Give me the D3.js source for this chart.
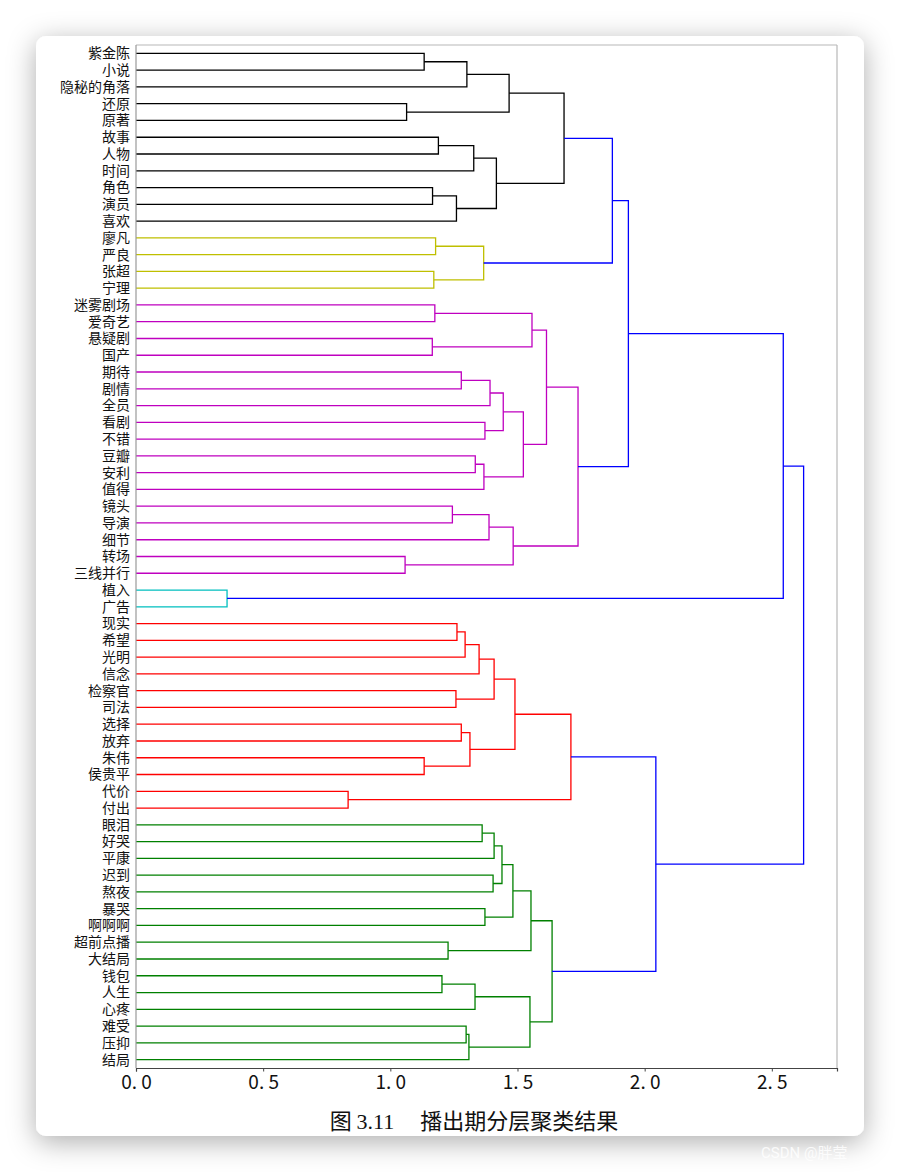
<!DOCTYPE html>
<html>
<head>
<meta charset="utf-8">
<script src="https://cdn.jsdelivr.net/npm/d3@7"></script>
<style>
  html, body { margin: 0; padding: 0; background: #ffffff; }
  svg { display: block; }
</style>
</head>
<body>
<svg id="chart" width="900" height="1172"></svg>
<script>
// ---------- DATA ----------
const labels = [
  "紫金陈","小说","隐秘的角落","还原","原著","故事","人物","时间","角色","演员","喜欢",
  "廖凡","严良","张超","宁理",
  "迷雾剧场","爱奇艺","悬疑剧","国产","期待","剧情","全员","看剧","不错","豆瓣","安利","值得",
  "镜头","导演","细节","转场","三线并行",
  "植入","广告",
  "现实","希望","光明","信念","检察官","司法","选择","放弃","朱伟","侯贵平","代价","付出",
  "眼泪","好哭","平康","迟到","熬夜","暴哭","啊啊啊","超前点播","大结局","钱包","人生","心疼","难受","压抑","结局"
];

// merges: [id, childA, childB, height, colorKey]; children are leaf indices or merge ids
const merges = [
  ["m1", 0, 1, 1.133, "k"],
  ["m2", "m1", 2, 1.301, "k"],
  ["m3", 3, 4, 1.064, "k"],
  ["m4", "m2", "m3", 1.467, "k"],
  ["m5", 5, 6, 1.189, "k"],
  ["m6", "m5", 7, 1.328, "k"],
  ["m7", 8, 9, 1.166, "k"],
  ["m8", "m7", 10, 1.260, "k"],
  ["m9", "m6", "m8", 1.417, "k"],
  ["m10", "m4", "m9", 1.683, "k"],
  ["m11", 11, 12, 1.178, "y"],
  ["m12", 13, 14, 1.171, "y"],
  ["m13", "m11", "m12", 1.367, "y"],
  ["m14", "m10", "m13", 1.873, "b"],
  ["m15", 15, 16, 1.175, "m"],
  ["m16", 17, 18, 1.165, "m"],
  ["m17", "m15", "m16", 1.557, "m"],
  ["m18", 19, 20, 1.279, "m"],
  ["m19", "m18", 21, 1.392, "m"],
  ["m20", 22, 23, 1.372, "m"],
  ["m21", "m19", "m20", 1.444, "m"],
  ["m22", 24, 25, 1.334, "m"],
  ["m23", "m22", 26, 1.368, "m"],
  ["m24", "m21", "m23", 1.523, "m"],
  ["m25", "m17", "m24", 1.614, "m"],
  ["m26", 27, 28, 1.244, "m"],
  ["m27", "m26", 29, 1.388, "m"],
  ["m28", 30, 31, 1.058, "m"],
  ["m29", "m27", "m28", 1.483, "m"],
  ["m30", "m25", "m29", 1.738, "m"],
  ["m31", "m14", "m30", 1.936, "b"],
  ["m32", 32, 33, 0.358, "c"],
  ["m33", "m31", "m32", 2.545, "b"],
  ["m34", 34, 35, 1.262, "r"],
  ["m35", "m34", 36, 1.294, "r"],
  ["m36", "m35", 37, 1.349, "r"],
  ["m37", 38, 39, 1.258, "r"],
  ["m38", "m36", "m37", 1.408, "r"],
  ["m39", 40, 41, 1.279, "r"],
  ["m40", 42, 43, 1.133, "r"],
  ["m41", "m39", "m40", 1.313, "r"],
  ["m42", "m38", "m41", 1.490, "r"],
  ["m43", 44, 45, 0.834, "r"],
  ["m44", "m42", "m43", 1.710, "r"],
  ["m45", 46, 47, 1.361, "g"],
  ["m46", "m45", 48, 1.408, "g"],
  ["m47", 49, 50, 1.404, "g"],
  ["m48", "m46", "m47", 1.439, "g"],
  ["m49", 51, 52, 1.372, "g"],
  ["m50", "m48", "m49", 1.482, "g"],
  ["m51", 53, 54, 1.227, "g"],
  ["m52", "m50", "m51", 1.553, "g"],
  ["m53", 55, 56, 1.203, "g"],
  ["m54", "m53", 57, 1.333, "g"],
  ["m55", 58, 59, 1.298, "g"],
  ["m56", "m55", 60, 1.309, "g"],
  ["m57", "m54", "m56", 1.549, "g"],
  ["m58", "m52", "m57", 1.636, "g"],
  ["m59", "m44", "m58", 2.044, "b"],
  ["m60", "m33", "m59", 2.625, "b"]
];

const tickValues = [0.0, 0.5, 1.0, 1.5, 2.0, 2.5];
const tickLabels = ["0. 0", "0. 5", "1. 0", "1. 5", "2. 0", "2. 5"];
const colorMap = { k: "#000000", y: "#bfbf00", m: "#bf00bf", c: "#00bfbf", r: "#ff0000", g: "#008000", b: "#0000ff" };
const captionFig = "图 ";
const captionNum = "3.11";
const captionText = "播出期分层聚类结果";
const watermark = "CSDN @胖莹";

// ---------- LAYOUT ----------
const svg = d3.select("#chart");
const plot = { left: 136, right: 837, top: 45, bottom: 1068 };
const maxH = d3.max(merges, d => d[3]);
const x = d3.scaleLinear().domain([0, maxH * 1.05]).range([plot.left, plot.right]);
const y = d3.scaleLinear().domain([0, labels.length * 10]).range([plot.top, plot.bottom]);

// card with shadow
const defs = svg.append("defs");
const f = defs.append("filter").attr("id", "shadow").attr("x", "-10%").attr("y", "-10%").attr("width", "120%").attr("height", "120%");
f.append("feDropShadow").attr("dx", 0).attr("dy", 6).attr("stdDeviation", 14)
  .attr("flood-color", "#000").attr("flood-opacity", 0.32);
svg.append("rect").attr("x", 36).attr("y", 36).attr("width", 828).attr("height", 1100)
  .attr("rx", 10).attr("fill", "#fff").attr("filter", "url(#shadow)");

// positions
const pos = {};   // id -> {y, h}
labels.forEach((l, i) => { pos[i] = { y: 5 + 10 * i, h: 0 }; });
merges.forEach(m => {
  const a = pos[m[1]], b = pos[m[2]];
  pos[m[0]] = { y: (a.y + b.y) / 2, h: m[3] };
});

// dendrogram links (drawn as U shapes)
const g = svg.append("g");
g.selectAll("path.link").data(merges).join("path")
  .attr("class", "link")
  .attr("fill", "none")
  .attr("stroke", d => colorMap[d[4]])
  .attr("stroke-width", 1.3)
  .attr("d", d => {
    const a = pos[d[1]], b = pos[d[2]];
    return `M${x(a.h)},${y(a.y)}H${x(d[3])}V${y(b.y)}H${x(b.h)}`;
  });

// spines
svg.append("line").attr("x1", plot.left).attr("x2", plot.right).attr("y1", plot.top).attr("y2", plot.top)
  .attr("stroke", "#b8b8b8").attr("stroke-width", 1.2);
svg.append("line").attr("x1", plot.right).attr("x2", plot.right).attr("y1", plot.top).attr("y2", plot.bottom)
  .attr("stroke", "#b8b8b8").attr("stroke-width", 1.2);
svg.append("line").attr("x1", plot.left).attr("x2", plot.left).attr("y1", plot.top).attr("y2", plot.bottom)
  .attr("stroke", "#999").attr("stroke-width", 1.2);

// x axis
const axis = d3.axisBottom(x).tickValues(tickValues).tickSize(3.5).tickPadding(4)
  .tickFormat((d, i) => tickLabels[i]);
const ax = svg.append("g").attr("transform", `translate(0,${plot.bottom})`).call(axis);
ax.select(".domain").attr("stroke", "#444").attr("stroke-width", 1.2);
ax.selectAll(".tick line").attr("stroke", "#444");
ax.selectAll(".tick text").attr("fill", "#111")
  .style("font-family", "'Noto Sans CJK SC', 'DejaVu Sans', sans-serif")
  .style("font-size", "19px");

// leaf labels
svg.append("g").selectAll("text").data(labels).join("text")
  .attr("x", plot.left - 6)
  .attr("y", (d, i) => y(5 + 10 * i))
  .attr("dy", "0.35em")
  .attr("text-anchor", "end")
  .attr("fill", "#111")
  .style("font-family", "'Noto Sans CJK SC', sans-serif")
  .style("font-size", "14px")
  .text(d => d);

// caption
const cap = svg.append("text").attr("x", 474).attr("y", 1129).attr("text-anchor", "middle")
  .attr("fill", "#111").style("font-size", "22px");
cap.append("tspan").style("font-family", "'Noto Sans CJK SC', sans-serif").text(captionFig);
cap.append("tspan").style("font-family", "'Liberation Serif', serif").text(captionNum);
cap.append("tspan").style("font-family", "'Noto Sans CJK SC', sans-serif")
  .attr("dx", 26).text(captionText);

// watermark
svg.append("text").attr("x", 761).attr("y", 1158).attr("fill", "#ffffff").attr("fill-opacity", 0.85)
  .style("font-family", "Roboto, 'Noto Sans CJK SC', sans-serif").style("font-size", "15px")
  .text(watermark);
</script>
</body>
</html>
